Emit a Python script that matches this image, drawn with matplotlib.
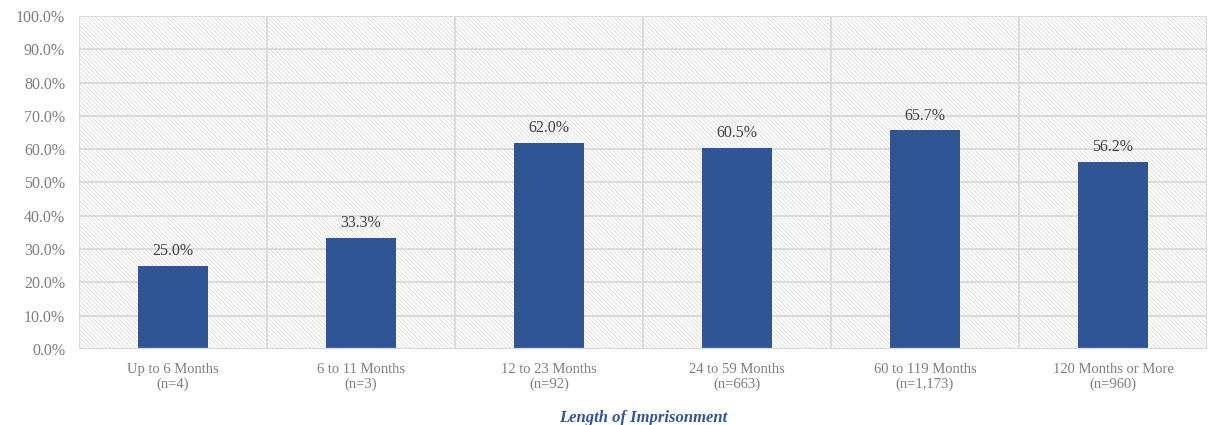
import matplotlib
matplotlib.use("Agg")
import matplotlib.pyplot as plt
from matplotlib.patches import Rectangle
from matplotlib.ticker import FuncFormatter, MultipleLocator

categories = ["Up to 6 Months", "6 to 11 Months", "12 to 23 Months",
              "24 to 59 Months", "60 to 119 Months", "120 Months or More"]
counts = ["n=4", "n=3", "n=92", "n=663", "n=1,173", "n=960"]
values = [25.0, 33.3, 62.0, 60.5, 65.7, 56.2]

plt.rcParams["font.family"] = ["Liberation Serif", "DejaVu Serif"]
plt.rcParams["hatch.linewidth"] = 0.5
plt.rcParams["hatch.color"] = "#d6d6d6"

bar_color = "#2F5597"
grid_color = "#d9d9d9"
tick_color = "#7f7f7f"

fig = plt.figure(figsize=(12.1, 4.25), dpi=100)
ax = fig.add_axes([0.0653, 0.1788, 0.9322, 0.7836])

n = len(categories)
ax.set_xlim(-0.5, n - 0.5)
ax.set_ylim(0, 100)

# hatched plot-area background
ax.add_patch(Rectangle((0, 0), 1, 1, transform=ax.transAxes, facecolor="white",
                       edgecolor="#d6d6d6", hatch="\\" * 8, linewidth=0, zorder=0))

# gridlines
ax.yaxis.set_major_locator(MultipleLocator(10))
for y in range(10, 101, 10):
    ax.axhline(y, color=grid_color, lw=1.3, zorder=1)
for i in range(n + 1):
    ax.axvline(i - 0.5, color=grid_color, lw=1.3, zorder=1)
ax.axhline(0, color=grid_color, lw=1.6, zorder=3)

x = list(range(n))
bars = ax.bar(x, values, width=0.37, color=bar_color, zorder=2)
for xi, v in zip(x, values):
    ax.text(xi, v + 2.0, f"{v:.1f}%", ha="center", va="bottom",
            fontsize=11.5, color="#404040", zorder=4)

for s in ax.spines.values():
    s.set_visible(False)

ax.yaxis.set_major_formatter(FuncFormatter(lambda v, p: f"{v:.1f}%"))
ax.set_xticks(x)
ax.set_xticklabels([f"{c}\n({k})" for c, k in zip(categories, counts)],
                   fontsize=10.5, color=tick_color, linespacing=1.15)
ax.tick_params(axis="y", labelsize=11.5, colors=tick_color, length=0, pad=10)
ax.tick_params(axis="x", length=0, pad=10)

ax.set_xlabel("Length of Imprisonment", fontsize=12, color=bar_color,
              fontweight="bold", fontstyle="italic", labelpad=14)

fig.savefig("out.png", dpi=100, facecolor="white")
